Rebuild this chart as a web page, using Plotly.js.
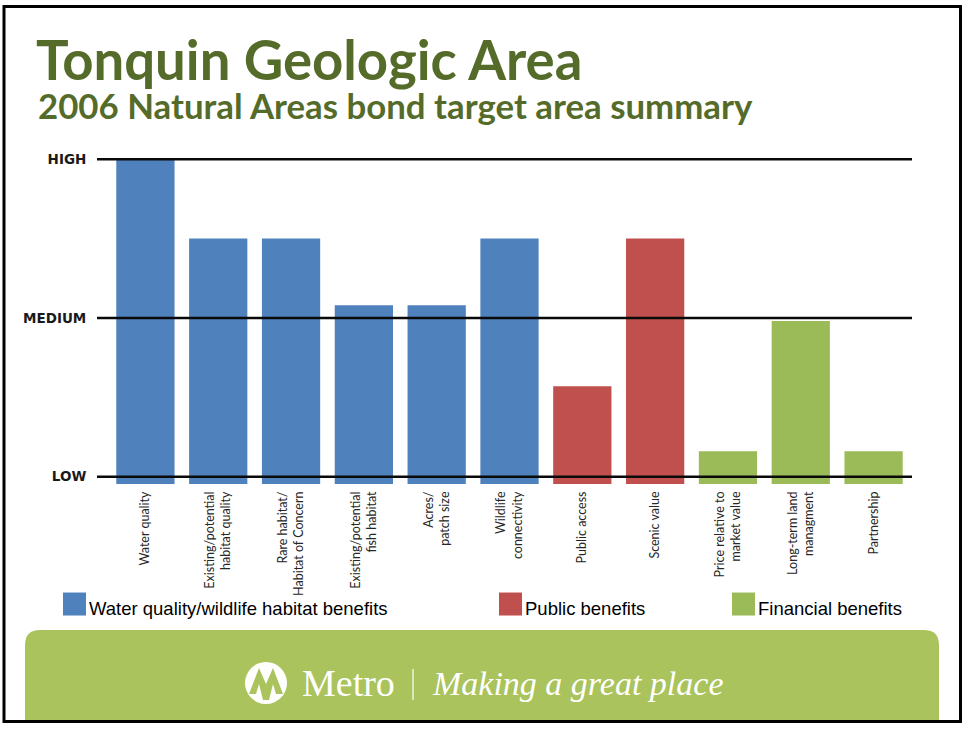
<!DOCTYPE html>
<html>
<head>
<meta charset="utf-8">
<script src="https://cdn.plot.ly/plotly-3.0.1.min.js"></script>
<style>
  html, body { margin: 0; padding: 0; background: #ffffff; }
  #chart { width: 965px; height: 730px; }
</style>
</head>
<body>
<div id="chart"></div>
<script>
// ---------- data ----------
const waterCategories = [
  "Water quality",
  "Existing/potential<br>habitat quality",
  "Rare habitat/<br>Habitat of Concern",
  "Existing/potential<br>fish habitat",
  "Acres/<br>patch size",
  "Wildlife<br>connectivity"
];
const waterValues = [2.0, 1.5, 1.5, 1.08, 1.08, 1.5];

const publicCategories = ["Public access", "Scenic value"];
const publicValues = [0.57, 1.5];

const financialCategories = [
  "Price relative to<br>market value",
  "Long-term land<br>managment",
  "Partnership"
];
const financialValues = [0.16, 0.98, 0.16];

const seriesNames = [
  "Water quality/wildlife habitat benefits",
  "Public benefits",
  "Financial benefits"
];

const levelValues = [0, 1, 2];
const levelLabels = ["LOW", "MEDIUM", "HIGH"];

// ---------- layout helpers (pixel -> paper) ----------
const W = 965, H = 730;
const PL = 109, PR = 910, PT = 156, PB = 484;
const X = px => (px - PL) / (PR - PL);
const Y = py => (PB - py) / (PB - PT);

const BAR_BASE = -0.046;
const allCategories = [...waterCategories, ...publicCategories, ...financialCategories];

function barTrace(cats, vals, name, color, legendId) {
  return {
    type: "bar",
    x: cats,
    y: vals.map(v => v - BAR_BASE),
    base: BAR_BASE,
    name: name,
    legend: legendId,
    marker: { color: color, line: { width: 0 } },
    hoverinfo: "skip"
  };
}

const traces = [
  barTrace(waterCategories, waterValues, seriesNames[0], "#4f81bd", "legend"),
  barTrace(publicCategories, publicValues, seriesNames[1], "#c0504d", "legend2"),
  barTrace(financialCategories, financialValues, seriesNames[2], "#9bbb59", "legend3")
];

const legendFont = { family: "'Liberation Sans', Arial, sans-serif", size: 18.5, color: "#000000" };
function legendAt(px) {
  return {
    x: X(px), xanchor: "left",
    y: Y(608), yanchor: "middle",
    orientation: "v",
    bgcolor: "rgba(0,0,0,0)",
    borderwidth: 0,
    font: legendFont
  };
}

const titleFont = "Lato, 'Open Sans', sans-serif";

const shapes = [];
// footer banner
shapes.push({
  type: "path", xref: "paper", yref: "paper", layer: "below",
  path: `M ${X(25)},${Y(721)} L ${X(25)},${Y(645)} Q ${X(25)},${Y(630)} ${X(40)},${Y(630)} ` +
        `L ${X(924)},${Y(630)} Q ${X(939)},${Y(630)} ${X(939)},${Y(645)} L ${X(939)},${Y(721)} Z`,
  fillcolor: "#aac35c", line: { width: 0 }
});
// logo
shapes.push({
  type: "circle", xref: "paper", yref: "paper",
  x0: X(245), x1: X(287), y0: Y(662), y1: Y(704),
  fillcolor: "#ffffff", line: { width: 0 }
});
shapes.push({
  type: "path", xref: "paper", yref: "paper",
  path: `M ${X(249)},${Y(694)} L ${X(259)},${Y(668)} L ${X(266)},${Y(684)} L ${X(273)},${Y(668)} L ${X(283)},${Y(694)} ` +
        `L ${X(276)},${Y(694)} L ${X(273)},${Y(684)} L ${X(269)},${Y(700)} L ${X(263)},${Y(700)} L ${X(259)},${Y(684)} L ${X(256)},${Y(694)} Z`,
  fillcolor: "#aac35c", line: { width: 0 }
});
// separator
shapes.push({
  type: "line", xref: "paper", yref: "paper",
  x0: X(413), x1: X(413), y0: Y(669), y1: Y(700),
  line: { color: "#ffffff", width: 1.2 }
});
// level lines drawn above bars (extend left like tick marks)
levelValues.forEach(v => shapes.push({
  type: "line", xref: "paper", yref: "y", layer: "above",
  x0: X(97), x1: X(912), y0: v, y1: v,
  line: { color: "#0a0a0a", width: 2.6 }
}));
// slide frame
shapes.push({
  type: "rect", xref: "paper", yref: "paper", layer: "above",
  x0: X(4), x1: X(960.5), y0: Y(6.5), y1: Y(721.5),
  line: { color: "#000000", width: 3 }, fillcolor: "rgba(0,0,0,0)"
});

const annotations = [
  {
    text: "<b>2006 Natural Areas bond target area summary</b>",
    xref: "paper", yref: "paper", x: X(36), y: Y(105.5),
    xanchor: "left", yanchor: "middle", showarrow: false,
    font: { family: titleFont, size: 34.8, color: "#556b2a" }
  },
  {
    text: "Metro",
    xref: "paper", yref: "paper", x: X(300), y: Y(683),
    xanchor: "left", yanchor: "middle", showarrow: false,
    font: { family: "'Liberation Serif', 'DejaVu Serif', serif", size: 38, color: "#ffffff" }
  },
  {
    text: "<i>Making a great place</i>",
    xref: "paper", yref: "paper", x: X(430), y: Y(683),
    xanchor: "left", yanchor: "middle", showarrow: false,
    font: { family: "'Liberation Serif', 'DejaVu Serif', serif", size: 34, color: "#ffffff" }
  }
];

const layout = {
  width: W, height: H,
  paper_bgcolor: "#ffffff", plot_bgcolor: "rgba(0,0,0,0)",
  margin: { l: PL, r: W - PR, t: PT, b: H - PB, pad: 0 },
  title: {
    text: "<b>Tonquin Geologic Area</b>",
    xref: "container", yref: "container",
    x: 36 / W, xanchor: "left",
    y: 1 - 60.5 / H, yanchor: "middle",
    font: { family: titleFont, size: 54.5, color: "#556b2a" }
  },
  barmode: "overlay",
  bargap: 0.2,
  xaxis: {
    type: "category",
    categoryorder: "array",
    categoryarray: allCategories,
    tickangle: -90,
    ticks: "",
    showline: false, showgrid: false, zeroline: false,
    automargin: false,
    ticklabelstandoff: 4,
    tickfont: { family: "Lato, 'Open Sans', sans-serif", size: 12.5, color: "#262626" }
  },
  yaxis: {
    range: [BAR_BASE, 2.02],
    tickvals: levelValues,
    ticktext: levelLabels,
    ticks: "outside", ticklen: 12, tickcolor: "rgba(0,0,0,0)",
    ticklabelstandoff: 7,
    showline: false, showgrid: false, zeroline: false,
    automargin: false,
    tickfont: { family: "'DejaVu Sans', Verdana, sans-serif", size: 13.5, color: "#1a1a1a", weight: "bold" }
  },
  showlegend: true,
  legend: legendAt(49),
  legend2: legendAt(485),
  legend3: legendAt(718),
  shapes: shapes,
  annotations: annotations
};

function enlargeLegendSymbols() {
  document.querySelectorAll("#chart g.legendpoints path").forEach(p => {
    p.setAttribute("d", "M17,8H-6V-15H17Z");
  });
}

const gd = document.getElementById("chart");
Plotly.newPlot(gd, traces, layout, { displayModeBar: false, responsive: false }).then(() => {
  enlargeLegendSymbols();
  gd.on("plotly_afterplot", enlargeLegendSymbols);
});
</script>
</body>
</html>
